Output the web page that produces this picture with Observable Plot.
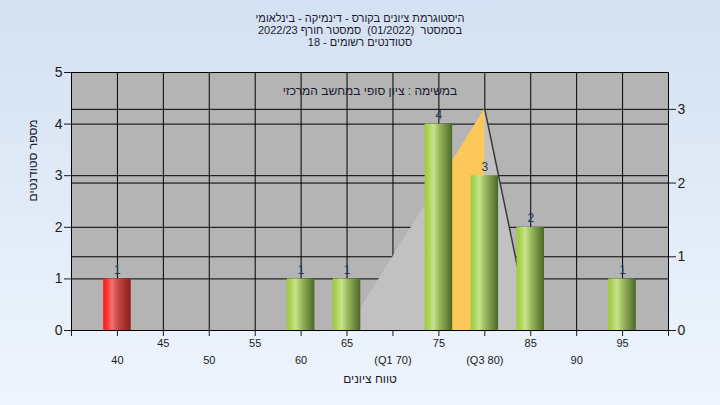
<!DOCTYPE html>
<html><head><meta charset="utf-8">
<script src="https://cdn.jsdelivr.net/npm/d3@7"></script>
<script src="https://cdn.jsdelivr.net/npm/@observablehq/plot@0.6"></script>
<style>
body{margin:0;}
#wrap{width:720px;height:405px;background:linear-gradient(#d4e1f2,#eef5fd);font-family:"Liberation Sans","DejaVu Sans",sans-serif;position:relative;overflow:hidden}
#title{height:60px;box-sizing:border-box;padding-top:12px;text-align:center;font-size:11px;line-height:12px;color:#1c1a2e;white-space:pre}
#title div{height:12px}
</style></head><body>
<div id="wrap"><div id="title" dir="rtl"></div><div id="chart"></div></div>
<script>
const titleLines = [
  "היסטוגרמת ציונים בקורס - דינמיקה - בינלאומי",
  "בסמסטר  (01/2022)  סמסטר חורף 2022/23",
  "סטודנטים רשומים - 18"
];
const innerTitle = "במשימה : ציון סופי במחשב המרכזי";
const yLabel = "מספר סטודנטים";
const xLabel = "טווח ציונים";

const grades = [40, 60, 65, 75, 80, 85, 95];
const counts = [1, 1, 1, 4, 3, 2, 1];
const failMark = 55;

const leftTicks = [0, 1, 2, 3, 4, 5];
const rightTicks = [0, 1, 2, 3];
const leftMax = 5;
const rightMax = 3.5;

const gridGrades = [40, 45, 50, 55, 60, 65, 70, 75, 80, 85, 90, 95];
const tickGrades = [35, 40, 45, 50, 55, 60, 65, 70, 75, 80, 85, 90, 95, 100];
const row1Ticks = [45, 55, 65, 75, 85, 95];
const row2Ticks = [40, 50, 60, 70, 80, 90];
const row2Labels = ["40", "50", "60", "(Q1 70)", "(Q3 80)", "90"];

// distribution overlay (right-axis units)
const distX = [65, 80, 85];
const distY = [0, 3, 0];
const bandX = [75, 80];
const bandY = [2, 3];
const slopeX = [80, 85];
const slopeY = [3, 0];

document.getElementById("title").innerHTML = titleLines.map(t => `<div>${t}</div>`).join("");

const k = leftMax / rightMax;
const bars = grades.map((g, i) => ({grade: g, count: counts[i]}));
const dist = distX.map((x, i) => ({x, y: distY[i] * k}));
const band = bandX.map((x, i) => ({x, y: bandY[i] * k}));
const slope = slopeX.map((x, i) => ({x, y: slopeY[i] * k}));
const font = '"Liberation Sans","DejaVu Sans",sans-serif';
const barHalf = 1.5;

const plot = Plot.plot({
  width: 720, height: 345,
  marginLeft: 71, marginRight: 52, marginTop: 12, marginBottom: 75,
  x: {domain: [35, 100], axis: null},
  y: {domain: [0, leftMax], axis: null},
  style: {background: "transparent", fontFamily: font, overflow: "visible", color: "#1a1a1a"},
  marks: [
    Plot.frame({fill: "#b4b4b4", stroke: null}),
    Plot.gridY(leftTicks, {stroke: "#000", strokeOpacity: 1}),
    Plot.gridY(rightTicks.map(r => r * k), {stroke: "#000", strokeOpacity: 1}),
    Plot.gridX(gridGrades, {stroke: "#000", strokeOpacity: 1}),
    Plot.areaY(dist, {x: "x", y: "y", fill: "#c1c1c1"}),
    Plot.areaY(band, {x: "x", y: "y", fill: "#fdc85a"}),
    Plot.line(slope, {x: "x", y: "y", stroke: "#3a3a3a", strokeWidth: 1.5}),
    Plot.rect(bars.filter(d => d.grade < failMark), {x1: d => d.grade - barHalf, x2: d => d.grade + barHalf, y1: 0, y2: "count", fill: "url(#gRed)", ariaLabel: "bars"}),
    Plot.rect(bars.filter(d => d.grade >= failMark), {x1: d => d.grade - barHalf, x2: d => d.grade + barHalf, y1: 0, y2: "count", fill: "url(#gGreen)", ariaLabel: "bars"}),
    Plot.text(bars, {x: "grade", y: "count", text: d => String(d.count), dy: -9, fontSize: 12, fill: "#24395a"}),
    Plot.frame({stroke: "#000"}),
    Plot.axisY(leftTicks, {anchor: "left", tickSize: 7, tickPadding: 2, fontSize: 14, tickFormat: d => String(d), label: null}),
    Plot.axisY(rightTicks.map(r => r * k), {anchor: "right", tickSize: 7, tickPadding: 2, fontSize: 14, tickFormat: d => String(Math.round(d / k)), label: null}),
    Plot.axisX(tickGrades, {anchor: "bottom", tickSize: 6, tickFormat: () => "", label: null}),
    Plot.axisX(row1Ticks, {anchor: "bottom", tickSize: 0, tickPadding: 9, fontSize: 11, label: null}),
    Plot.axisX(row2Ticks, {anchor: "bottom", tickSize: 0, tickPadding: 26, fontSize: 11, tickFormat: d => row2Labels[row2Ticks.indexOf(d)], label: null}),
    Plot.text([yLabel], {text: d => d, frameAnchor: "left", dx: -38, rotate: -90, fontSize: 12, fill: "#1c1a2e"}),
    Plot.text([xLabel], {text: d => d, frameAnchor: "bottom", dy: 52, fontSize: 12, fill: "#1c1a2e"}),
    Plot.text([innerTitle], {text: d => d, frameAnchor: "top", dy: 14, fontSize: 12, fill: "#1c1a2e"})
  ]
});

d3.select(plot).insert("defs", ":first-child").html(`
<linearGradient id="gGreen" x1="0" x2="1" y1="0" y2="0">
  <stop offset="0" stop-color="#9ccb3e"/>
  <stop offset="0.12" stop-color="#a9d24e"/>
  <stop offset="0.32" stop-color="#c8e38e"/>
  <stop offset="0.55" stop-color="#97b65a"/>
  <stop offset="1" stop-color="#4b6728"/>
</linearGradient>
<linearGradient id="gRed" x1="0" x2="1" y1="0" y2="0">
  <stop offset="0" stop-color="#ff1c1c"/>
  <stop offset="0.12" stop-color="#ff3030"/>
  <stop offset="0.32" stop-color="#f07272"/>
  <stop offset="0.55" stop-color="#c84444"/>
  <stop offset="1" stop-color="#8a1e1e"/>
</linearGradient>
<filter id="shadow" x="-30%" y="-10%" width="180%" height="130%">
  <feDropShadow dx="5" dy="3" stdDeviation="2" flood-color="#000" flood-opacity="0.55"/>
</filter>`);
d3.select(plot).selectAll('g[aria-label="bars"]').attr("filter", "url(#shadow)");

document.getElementById("chart").appendChild(plot);
</script>
</body></html>
